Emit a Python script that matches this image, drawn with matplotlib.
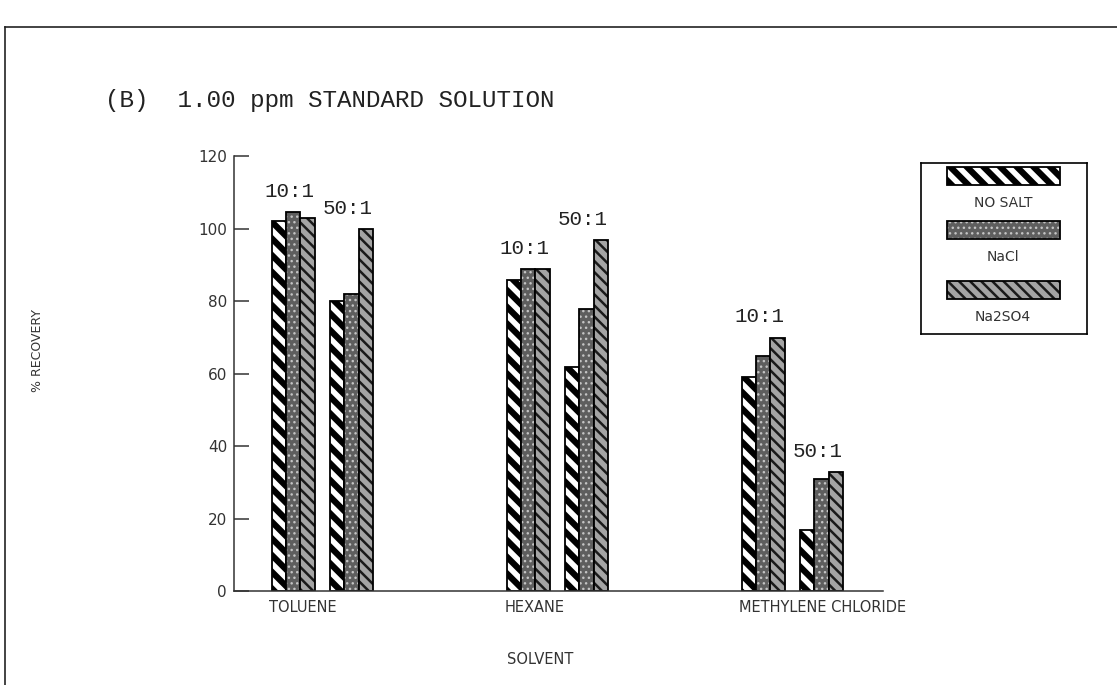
import numpy as np
import matplotlib
matplotlib.use('Agg')
import matplotlib.pyplot as plt
from matplotlib.patches import Rectangle

# data
solvents = ['TOLUENE', 'HEXANE', 'METHYLENE CHLORIDE']
ratios = ['10:1', '50:1']
salts = ['NO SALT', 'NaCl', 'Na2SO4']
# recovery (%) for ratio 10:1 and 50:1, one list per salt
no_salt_10 = [102, 86, 59]
nacl_10 = [104.5, 89, 65]
na2so4_10 = [103, 89, 70]
no_salt_50 = [80, 62, 17]
nacl_50 = [82, 78, 31]
na2so4_50 = [100, 97, 33]
y_ticks = [0, 20, 40, 60, 80, 100, 120]

values = {
    '10:1': [no_salt_10, nacl_10, na2so4_10],
    '50:1': [no_salt_50, nacl_50, na2so4_50],
}

# hatch styles for each salt: (face, hatch colour, hatch, hatch linewidth)
styles = [
    ('white', 'black', '\\' * 2, 4.5),
    ('#5e5e5e', '#c4c4c4', '...', 1.0),
    ('#a4a4a4', '#1a1a1a', '\\' * 3, 1.8),
]

plt.rcParams['font.family'] = ['DejaVu Sans']
mono = 'Liberation Mono'

fig = plt.figure(figsize=(11.17, 6.85), dpi=100)
ax = fig.add_axes([0.2095, 0.1365, 0.581, 0.6355])

x = np.arange(len(solvents))
w = 0.061
offsets = {'10:1': -0.125, '50:1': 0.123}


def draw_bar(a, xs, hs, style, width):
    face, hcol, hatch, hlw = style
    with plt.rc_context({'hatch.linewidth': hlw}):
        a.bar(xs, hs, width, color=face, edgecolor=hcol, hatch=hatch, linewidth=0)
    a.bar(xs, hs, width, fill=False, edgecolor='black', linewidth=1.3)


for r in ratios:
    for i, (vals, st) in enumerate(zip(values[r], styles)):
        xs = x + offsets[r] + (i - 1) * w
        draw_bar(ax, xs, vals, st, w)
    tops = np.max(np.array(values[r]), axis=0)
    for xi, t in zip(x + offsets[r], tops):
        ax.annotate(r, (xi, t), xytext=(-3, 8), textcoords='offset points',
                    ha='center', va='bottom', fontsize=15, family=mono,
                    color='#222222')

ax.set_xlim(-0.377, 2.385)
ax.set_ylim(0, 120)
ax.set_yticks(y_ticks)
ax.tick_params(axis='y', direction='in', length=11, width=1.1, pad=5,
               labelsize=11, colors='#333333')
ax.set_xticks(x + offsets['10:1'] - 1.5 * w - 0.01)
ax.set_xticklabels(solvents, ha='left')
ax.tick_params(axis='x', length=0, pad=6, labelsize=10.5, colors='#333333')
for s in ['top', 'right']:
    ax.spines[s].set_visible(False)
for s in ['left', 'bottom']:
    ax.spines[s].set_linewidth(1.1)
    ax.spines[s].set_color('#333333')

fig.text(540 / 1117, 1 - 660 / 685, 'SOLVENT', ha='center', va='center',
         fontsize=10.5, color='#333333')
fig.text(38 / 1117, 1 - 350 / 685, '% RECOVERY', ha='center', va='center',
         rotation=90, fontsize=9, color='#333333')
fig.text(105 / 1117, 1 - 100 / 685, '(B)  1.00 ppm STANDARD SOLUTION',
         ha='left', va='center', fontsize=17.5, family=mono, color='#222222')

# outer frame lines
fig.add_artist(plt.Line2D([5 / 1117, 1], [1 - 27 / 685] * 2, color='#222222', lw=1.2))
fig.add_artist(plt.Line2D([5 / 1117] * 2, [0, 1 - 27 / 685], color='#222222', lw=1.2))

# legend: patch above each label
lax = fig.add_axes([921 / 1117, 1 - 334 / 685, 166 / 1117, 171 / 685])
lax.set_xlim(0, 166)
lax.set_ylim(171, 0)
lax.set_xticks([])
lax.set_yticks([])
for s in lax.spines.values():
    s.set_linewidth(1.2)
patch_tops = [4, 58, 118]
for name, st, ptop in zip(salts, styles, patch_tops):
    face, hcol, hatch, hlw = st
    with plt.rc_context({'hatch.linewidth': hlw}):
        lax.add_patch(Rectangle((26, ptop), 113, 18, facecolor=face,
                                edgecolor=hcol, hatch=hatch, linewidth=0))
    lax.add_patch(Rectangle((26, ptop), 113, 18, fill=False,
                            edgecolor='black', linewidth=1.3))
    lax.text(82, ptop + 36, name, ha='center', va='center', fontsize=10,
             color='#333333')

fig.savefig('out.png', dpi=100)
